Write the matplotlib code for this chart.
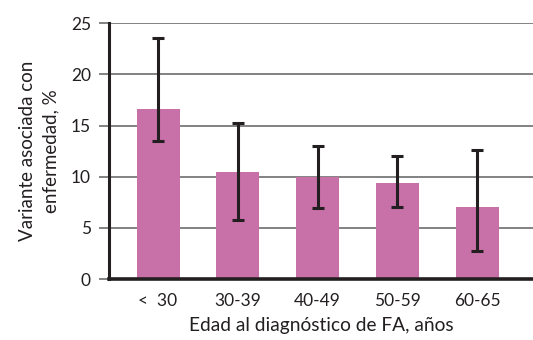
import matplotlib
matplotlib.use("Agg")
import matplotlib.pyplot as plt
import numpy as np

# Share of disease-associated variants by age at AF diagnosis
age_groups = ["<  30", "30-39", "40-49", "50-59", "60-65"]
percent = [16.6, 10.5, 10.0, 9.4, 7.0]
ci_low = [13.5, 5.8, 6.9, 7.0, 2.7]
ci_high = [23.5, 15.2, 13.0, 12.0, 12.6]

plt.rcParams["font.family"] = ["Lato", "DejaVu Sans"]
text_color = "#231F20"

fig = plt.figure(figsize=(5.33, 3.4), dpi=100)
ax = fig.add_axes([0.2045, 0.179, 0.7955, 0.753])

x = np.arange(len(age_groups))
vals = np.array(percent)
yerr = np.vstack([vals - np.array(ci_low), np.array(ci_high) - vals])

ax.bar(x, vals, width=0.54, color="#C870A8", zorder=2)
ax.errorbar(x, vals, yerr=yerr, fmt="none", ecolor=text_color,
            elinewidth=2.2, capsize=4, capthick=2.2, zorder=3)

ax.set_ylim(0, 25)
ax.set_xlim(-0.615, 4.70)
ax.set_yticks([0, 5, 10, 15, 20, 25])
ax.set_xticks(x)
ax.set_xticklabels(age_groups)

ax.yaxis.grid(True, color="#6d6d6d", linewidth=1.2, zorder=1)
ax.set_axisbelow(True)

for side in ["top", "right"]:
    ax.spines[side].set_visible(False)
ax.spines["left"].set_linewidth(2.2)
ax.spines["left"].set_color(text_color)
ax.spines["bottom"].set_visible(False)
ax.axhline(0, color=text_color, linewidth=2.6, zorder=4, clip_on=False)

ax.tick_params(axis="y", length=7, width=1.2, color="#6d6d6d", pad=6,
               labelsize=12.5, labelcolor=text_color)
ax.tick_params(axis="x", length=0, pad=10, labelsize=12.5, labelcolor=text_color)

ax.set_xlabel("Edad al diagnóstico de FA, años", fontsize=13.8, color=text_color, labelpad=6)
ax.set_ylabel("Variante asociada con\nenfermedad, %", fontsize=13.5, color=text_color,
              labelpad=8, linespacing=1.45)

fig.savefig("out.png", dpi=100)
